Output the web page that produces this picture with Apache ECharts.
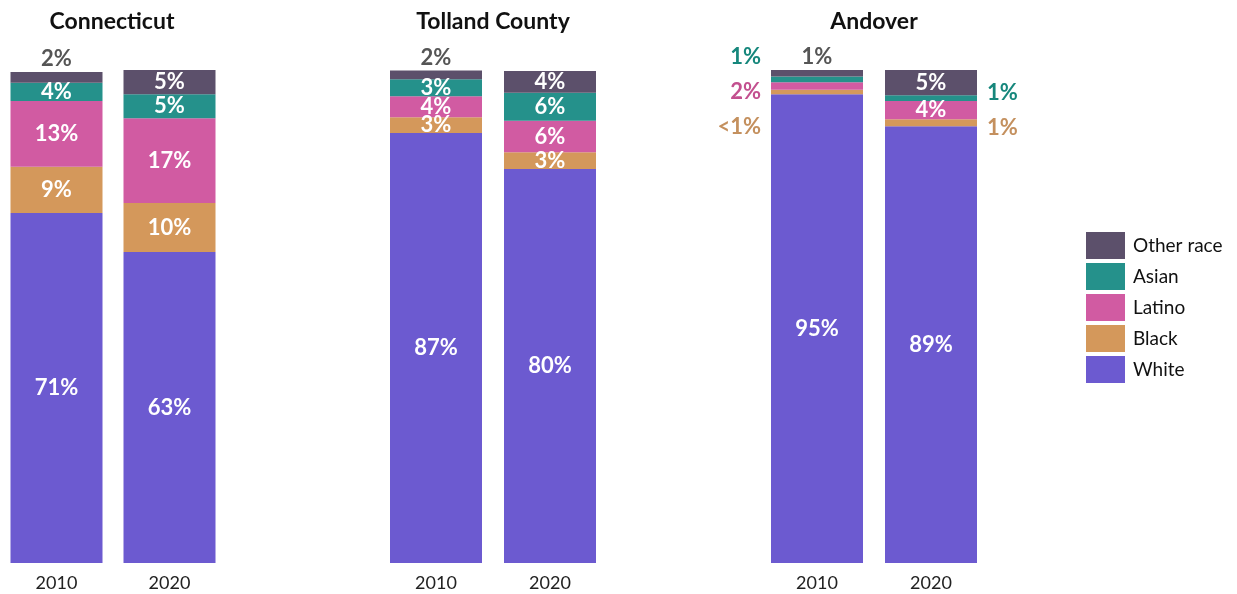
<!DOCTYPE html>
<html>
<head>
<meta charset="utf-8">
<script src="https://cdn.jsdelivr.net/npm/echarts@6/dist/echarts.min.js"></script>
<style>
  html, body { margin: 0; padding: 0; background: #fff; }
  #main { width: 1237px; height: 594px; }
</style>
</head>
<body>
<div id="main"></div>
<script>
// data (percent of population)
const years = ["2010", "2020"];
const places = ["Connecticut", "Tolland County", "Andover"];
const races = ["White", "Black", "Latino", "Asian", "Other race"];
const legendOrder = ["Other race", "Asian", "Latino", "Black", "White"];

const connecticut = {
  "White": [71.0, 63.1],
  "Black": [9.4, 9.9],
  "Latino": [13.3, 17.2],
  "Asian": [3.7, 4.9],
  "Other race": [2.2, 4.9]
};
const tolland = {
  "White": [87.2, 79.9],
  "Black": [3.2, 3.4],
  "Latino": [4.3, 6.4],
  "Asian": [3.4, 5.7],
  "Other race": [1.8, 4.4]
};
const andover = {
  "White": [95.1, 88.6],
  "Black": [0.9, 1.4],
  "Latino": [1.5, 3.7],
  "Asian": [1.2, 1.2],
  "Other race": [1.3, 5.1]
};
const placeData = [connecticut, tolland, andover];

const colors = {
  "White": "#6c5ad0",
  "Black": "#d4985b",
  "Latino": "#d15ba2",
  "Asian": "#25918b",
  "Other race": "#5c506b"
};
// darker text colours for labels sitting outside the bars
const outColors = {
  "Black": "#c4905e",
  "Latino": "#c3508f",
  "Asian": "#16877c",
  "Other race": "#555555"
};

const FONT = "Lato";

// labels that sit outside their segment: [panel, yearIndex, race, position, offset]
const outside = [
  [0, 0, "Other race", "top", [0, 1]],
  [1, 0, "Other race", "top", [0, 1]],
  [2, 0, "Other race", "top", [0, 1]],
  [2, 0, "Asian", "left", [0, -22]],
  [2, 0, "Latino", "left", [0, 6]],
  [2, 0, "Black", "left", [0, 35]],
  [2, 1, "Asian", "right", [0, -5]],
  [2, 1, "Black", "right", [0, 5]]
];

function fmt(v) {
  return v < 1 ? "<1%" : Math.round(v) + "%";
}

const gridLefts = [-2, 379, 760];
const grids = [], xAxes = [], yAxes = [], titles = [], series = [];

places.forEach((p, i) => {
  grids.push({ left: gridLefts[i], width: 228, top: 70, bottom: 31 });
  xAxes.push({
    type: "category", gridIndex: i, data: years,
    axisLine: { show: false }, axisTick: { show: false },
    axisLabel: { color: "#222", fontSize: 18, fontFamily: FONT, margin: 11 }
  });
  yAxes.push({ type: "value", gridIndex: i, min: 0, max: 100, show: false });
  titles.push({
    type: "text", x: gridLefts[i] + 114, y: 22,
    style: {
      text: p, textAlign: "center", textVerticalAlign: "middle",
      fontSize: 23, fontWeight: "bold", fill: "#111", fontFamily: FONT
    }
  });
  races.forEach(r => {
    const data = placeData[i][r].map((v, yi) => {
      const o = outside.find(d => d[0] === i && d[1] === yi && d[2] === r);
      if (!o) return v;
      return {
        value: v,
        label: { position: o[3], offset: o[4], distance: o[3] === "top" ? 3 : 10, color: outColors[r] }
      };
    });
    series.push({
      name: r, type: "bar", stack: "p" + i,
      xAxisIndex: i, yAxisIndex: i,
      barWidth: 92, silent: true,
      itemStyle: { color: colors[r] },
      label: {
        show: true, position: "inside", color: "#fff",
        fontSize: 22, fontWeight: "bold", fontFamily: FONT,
        formatter: prm => fmt(prm.value)
      },
      data: data
    });
  });
});

const chart = echarts.init(document.getElementById("main"));
chart.setOption({
  animation: false,
  graphic: titles,
  grid: grids,
  xAxis: xAxes,
  yAxis: yAxes,
  legend: {
    data: legendOrder.map(n => ({ name: n, icon: "rect" })),
    orient: "vertical", left: 1086, top: 232, padding: 0,
    itemWidth: 39, itemHeight: 27, itemGap: 4,
    selectedMode: false,
    textStyle: { fontSize: 19, color: "#111", fontFamily: FONT, padding: [0, 0, 0, 3] }
  },
  series: series
});
</script>
</body>
</html>
